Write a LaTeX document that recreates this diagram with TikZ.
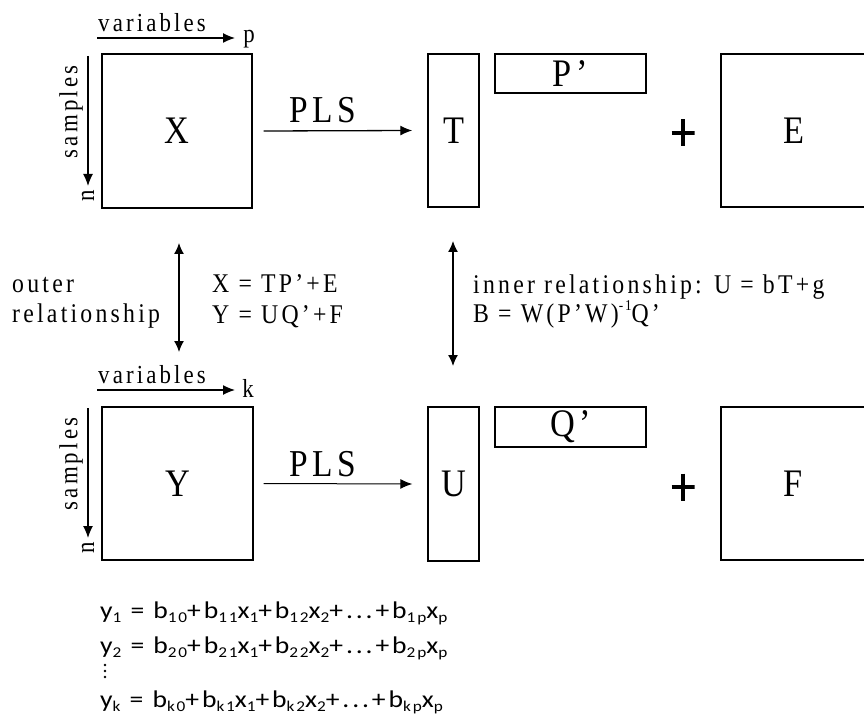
\documentclass[tikz,border=0pt]{standalone}
\usepackage{fontspec}
\setmainfont{Liberation Serif}[FakeStretch=0.88,LetterSpace=12]
\newfontfamily\eqfont{Carlito}[FakeStretch=1.15,LetterSpace=12]
\usetikzlibrary{arrows.meta}
\newcommand\lo[1]{\raisebox{-0.35ex}{\fontsize{15}{15}\selectfont #1}}
\newcommand\hi[1]{\raisebox{0.9ex}{\fontsize{15}{15}\selectfont #1}}
\begin{document}
\begin{tikzpicture}[x=1pt,y=-1pt,
  mat/.style={draw, line width=1.4pt, inner sep=0pt, font=\fontsize{39}{39}\selectfont},
  arr/.style={line width=1.3pt, -{Latex[length=12pt,width=10pt]}},
  darr/.style={line width=1.3pt, {Latex[length=11pt,width=10pt]}-{Latex[length=11pt,width=10pt]}},
  big/.style={font=\fontsize{38}{38}\selectfont, inner sep=0pt, anchor=base},
  lab/.style={font=\fontsize{26}{26}\selectfont, inner sep=0pt, anchor=base},
  rel/.style={font=\fontsize{27}{30}\selectfont, inner sep=0pt, anchor=base west},
  eq/.style={font=\eqfont\fontsize{24}{24}\selectfont, inner sep=0pt, anchor=base west},
  vdot/.style={circle, fill, inner sep=0pt, minimum size=2.6pt},
  plusnode/.style={minimum width=23pt, minimum height=27pt, inner sep=0pt,
    path picture={\draw[line width=4.5pt] (path picture bounding box.west) -- (path picture bounding box.east)
      (path picture bounding box.north) -- (path picture bounding box.south);}}]
\useasboundingbox (0,0) rectangle (864,719);

% ---------- top row ----------
\node[lab] (var1) at (152,32) {variables};
\coordinate (v1s) at (97,38);
\coordinate (v1e) at (235,38);
\draw[arr] (v1s) -- (v1e);
\node[lab] (p1) at (249,43) {p};

\node[lab, rotate=90, anchor=center] (smp1) at (71,112) {samples};
\coordinate (s1s) at (88,56);
\coordinate (s1e) at (88,186);
\draw[arr] (s1s) -- (s1e);
\node[lab, rotate=90, anchor=center] (n1) at (88,196) {n};

\node[mat, minimum width=150pt, minimum height=154pt] (X) at (177,131) {X};
\node[mat, minimum width=51pt, minimum height=153pt] (T) at (453.5,130.5) {T};
\node[mat, minimum width=151pt, minimum height=39pt] (P) at (570.5,73.5) {P’};
\node[plusnode] (plus1) at (683,133) {};
\node[mat, minimum width=145pt, minimum height=153pt] (E) at (793.5,130.5) {E};

\draw[arr] ([xshift=11pt]X.east) -- ([xshift=-15pt]T.west);
\node[big] (pls1) at (323,123) {PLS};

% ---------- middle ----------
\node[rel] (outer) at (12,292) {outer};
\node[rel] (relship) at (12,322) {relationship};
\coordinate (o1) at (179,243);
\coordinate (o2) at (179,352);
\draw[darr] (o1) -- (o2);
\node[rel] (eqx) at (212,292) {X = TP’+E};
\node[rel] (eqy) at (212,323) {Y = UQ’+F};

\coordinate (i1) at (453,241);
\coordinate (i2) at (453,366);
\draw[darr] (i1) -- (i2);
\node[rel] (inner) at (473,293) {inner relationship: U = bT+g};
\node[rel] (beq) at (473,322) {B = W(P’W)\hi{-1}Q’};

% ---------- bottom row ----------
\node[lab] (var2) at (152,383) {variables};
\coordinate (v2s) at (97,390);
\coordinate (v2e) at (235,390);
\draw[arr] (v2s) -- (v2e);
\node[lab] (k2) at (248,397) {k};

\node[lab, rotate=90, anchor=center] (smp2) at (71,464) {samples};
\coordinate (s2s) at (88,408);
\coordinate (s2e) at (88,538);
\draw[arr] (s2s) -- (s2e);
\node[lab, rotate=90, anchor=center] (n2) at (88,548) {n};

\node[mat, minimum width=151pt, minimum height=153pt] (Y) at (177.5,483.5) {Y};
\node[mat, minimum width=51pt, minimum height=154pt] (U) at (453.5,484) {U};
\node[mat, minimum width=151pt, minimum height=40pt] (Q) at (570.5,427) {Q’};
\node[plusnode] (plus2) at (683,487) {};
\node[mat, minimum width=145pt, minimum height=153pt] (F) at (793.5,483.5) {F};

\draw[arr, line width=1pt] ([xshift=10pt]Y.east) -- ([xshift=-15pt]U.west);
\node[big] (pls2) at (323,476) {PLS};

% ---------- regression equations ----------
\node[eq] (e1) at (100,618) {y\lo{1} = b\lo{10}+b\lo{11}x\lo{1}+b\lo{12}x\lo{2}+...+b\lo{1p}x\lo{p}};
\node[eq] (e2) at (100,653) {y\lo{2} = b\lo{20}+b\lo{21}x\lo{1}+b\lo{22}x\lo{2}+...+b\lo{2p}x\lo{p}};
\node[vdot] (d1) at (105,665) {};
\node[vdot] (d2) at (105,671) {};
\node[vdot] (d3) at (105,677) {};
\node[eq] (ek) at (100,707) {y\lo{k} = b\lo{k0}+b\lo{k1}x\lo{1}+b\lo{k2}x\lo{2}+...+b\lo{kp}x\lo{p}};
\end{tikzpicture}
\end{document}
